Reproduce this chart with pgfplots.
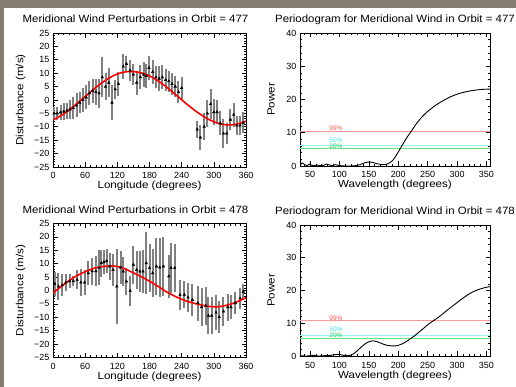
\documentclass[border=0pt]{standalone}
\usepackage{fontspec}
\setmainfont{Liberation Sans}
\usepackage{graphicx}
\usepackage{pgfplots}
\usepackage{pgfplotstable}
\pgfplotsset{compat=1.18}
\definecolor{bgstone}{RGB}{132,125,112}
\definecolor{errgray}{RGB}{128,128,128}
\definecolor{lred}{RGB}{255,150,150}
\definecolor{tred}{RGB}{255,80,80}
\definecolor{lcyan}{RGB}{150,245,245}
\definecolor{tcyan}{RGB}{60,225,225}
\definecolor{lgreen}{RGB}{100,230,130}
\definecolor{tgreen}{RGB}{30,200,90}
\newcommand{\wide}[1]{\scalebox{1.12}[1]{#1}}
\newcommand{\widet}[1]{\scalebox{1.085}[1]{#1}}

\pgfplotstableread{
x y e
2 -5.0 2.5
8 -5.0 2.5
14 -4.6 2.8
20 -4.3 3.0
26 -4.0 3.0
32 -3.5 3.5
38 -3.0 4.0
44 -2.0 4.5
50 -1.0 4.0
56 0.0 4.5
62 1.0 4.5
68 2.5 4.5
74 3.5 4.5
80 3.0 5.0
86 2.5 5.5
92 8.5 7.5
98 5.0 5.0
104 6.5 5.5
110 -1.0 6.5
116 4.0 3.5
122 6.0 4.5
131 12.5 4.5
137 13.5 3.0
144 11.0 4.0
150 9.5 4.0
156 6.5 4.5
163 8.5 4.5
169 9.5 4.5
174 9.0 4.5
179 12.0 4.5
186 10.5 4.5
192 8.5 4.0
198 8.0 4.5
204 8.5 4.5
210 7.5 4.0
216 7.0 4.0
222 6.0 4.0
228 5.0 4.0
234 3.0 4.0
240 4.5 4.0
269 -11.0 3.0
275 -14.0 4.5
282 -10.0 5.0
288 -5.0 5.0
294 -1.5 5.5
300 -4.5 5.0
306 -4.5 4.5
312 -8.7 4.5
318 -12.5 5.5
324 -12.5 4.0
331 -7.3 4.0
337 -5.5 4.5
343 -9.5 3.5
349 -9.5 3.5
355 -8.5 4.0
}\dataA

\pgfplotstableread{
x y e
3 2.5 4.5
10 1.5 5.0
17 2.0 4.0
24 3.0 3.0
31 3.5 2.5
38 3.5 2.0
45 4.0 3.5
52 3.0 5.0
59 3.0 4.5
66 6.5 4.5
73 7.2 5.0
80 7.2 5.5
86 8.5 6.5
90 10.2 5.0
95 10.6 4.5
100 11.0 4.5
106 9.0 5.0
112 7.7 6.0
119 1.5 14.0
126 8.6 6.0
131 7.1 5.5
137 3.4 5.0
144 -0.1 5.5
150 9.6 7.0
156 7.7 7.0
162 7.1 7.5
168 7.1 8.0
174 10.2 11.5
180 8.4 9.0
186 6.5 9.0
193 9.0 10.5
199 8.6 11.0
206 9.0 11.0
216 5.3 8.0
220 8.4 9.5
227 8.4 9.0
237 -1.6 5.5
245 -1.6 5.0
252 -2.6 5.5
260 -3.5 6.0
270 -4.7 6.5
277 -6.2 7.0
285 -5.7 7.0
290 -9.4 7.0
296 -9.4 7.0
304 -8.2 6.5
310 -9.9 6.0
318 -7.8 5.5
326 -6.2 5.0
332 -6.2 4.5
340 -4.7 4.0
349 -2.9 4.0
355 -0.4 3.0
}\dataB

\tikzset{sig/.style={font=\fontsize{6.5}{7}\selectfont, anchor=base, inner sep=0pt}}

\pgfplotsset{
  idl/.style={
    scale only axis,
    axis line style={black, line width=0.7bp},
    tick align=inside,
    major tick length=4.5bp,
    minor tick length=2.3bp,
    every tick/.style={black, line width=0.6bp},
    tick label style={font=\fontsize{9}{10}\selectfont},
    /pgf/number format/assume math mode=true,
    xticklabel style={anchor=base, yshift=-12bp, inner sep=0pt},
    yticklabel style={anchor=east, inner sep=0pt, xshift=-3.5bp},
    title style={at={(0.5,1)}, anchor=base, yshift=4.5bp, inner sep=0pt, font=\fontsize{10.6}{12}\selectfont},
    label style={font=\fontsize{10.4}{11}\selectfont},
    xlabel style={at={(0.5,0)}, anchor=base, yshift=-22bp, inner sep=0pt},
  },
  wind/.style={idl, width=193bp, height=134bp,
    xmin=0, xmax=360, ymin=-25, ymax=25,
    xtick={0,60,...,360}, minor x tick num=5,
    ytick={-25,-20,...,25}, minor y tick num=4,
    yticklabels={−25,−20,−15,−10,−5,0,5,10,15,20,25},
    title style={xshift=-14bp},
    xlabel={\wide{Longitude (degrees)}}, ylabel={\wide{Disturbance (m/s)}},
    ylabel style={at={(axis description cs:-0.153,0.5)}, anchor=base, inner sep=0pt},
  },
  pgram/.style={idl, width=190bp,
    xmin=33, xmax=356, ymin=0, ymax=40,
    xtick={50,100,...,350}, minor xtick={40,50,...,350},
    ytick={0,10,...,40}, minor y tick num=4,
    xlabel={\wide{Wavelength (degrees)}}, ylabel={\wide{Power}},
    ylabel style={at={(axis description cs:-0.134,0.5)}, anchor=base, inner sep=0pt},
  },
  errpts/.style={only marks, mark=triangle*, mark size=1.5bp, black,
    error bars/.cd, y dir=both, y explicit, error mark=none,
    error bar style={errgray, line width=2bp}},
}

\begin{document}
\begin{tikzpicture}
\useasboundingbox (0bp,0bp) rectangle (516bp,387bp);
\fill[bgstone] (0bp,0bp) rectangle (516bp,387bp);
\fill[white] (4bp,0bp) rectangle (516bp,379bp);

% top left
\begin{axis}[wind, at={(53bp,220bp)}, title={\widet{Meridional Wind Perturbations in Orbit = 477}}]
\addplot[errpts] table[x=x, y=y, y error=e] {\dataA};
\addplot[red, line width=1.6bp, smooth] coordinates {
(0,-7.4) (10,-6.4) (20,-5.2) (30,-3.7) (40,-2.1) (50,-0.4) (60,1.3) (70,3.0) (80,4.7) (90,6.2)
(100,7.6) (110,8.8) (120,9.7) (130,10.3) (140,10.6) (150,10.6) (160,10.3) (170,9.8) (180,9.0)
(190,7.9) (200,6.6) (210,5.1) (220,3.5) (230,1.8) (240,0.1) (250,-1.6) (260,-3.2) (270,-4.7)
(280,-6.0) (290,-7.2) (300,-8.1) (310,-8.8) (320,-9.2) (330,-9.3) (340,-9.1) (350,-8.6) (360,-7.9)};
\end{axis}

% top right
\begin{axis}[pgram, height=133bp, at={(300bp,221bp)}, title={\widet{Periodogram for Meridional Wind in Orbit = 477}}]
\addplot[lred, line width=1bp] coordinates {(33,10.5) (356,10.5)};
\addplot[lcyan, line width=1bp] coordinates {(33,6.2) (356,6.2)};
\addplot[lgreen, line width=1bp] coordinates {(33,5.2) (356,5.2)};
\node[sig, text=tred] at (axis cs:94,10.75) {99\%};
\node[sig, text=tcyan] at (axis cs:94,7.2) {50\%};
\node[sig, text=tgreen] at (axis cs:94,5.3) {20\%};
\addplot[black, line width=0.9bp, smooth] coordinates {
(33,0.2) (37,0.9) (41,0.4) (45,0.1) (49,0.6) (53,0.2) (57,0.1) (62,0.3) (67,0.1) (73,0.2)
(78,0.6) (83,0.3) (88,0.1) (93,0.4) (98,0.2) (104,0.05) (112,0.0) (120,0.0) (128,0.1) (135,0.4)
(142,0.9) (150,1.2) (158,1.0) (166,0.6) (174,0.4) (180,0.5) (186,1.0) (192,2.0) (198,3.6)
(204,5.4) (210,7.2) (216,8.9) (222,10.4) (230,12.5) (240,14.7) (250,16.4) (260,17.8) (270,19.0)
(280,20.0) (290,20.9) (300,21.6) (310,22.1) (320,22.5) (330,22.8) (340,23.0) (350,23.1) (356,23.1)};
\end{axis}

% bottom left
\begin{axis}[wind, at={(53bp,29.5bp)}, title={\widet{Meridional Wind Perturbations in Orbit = 478}}]
\addplot[errpts] table[x=x, y=y, y error=e] {\dataB};
\addplot[red, line width=1.6bp, smooth] coordinates {
(0,-0.9) (20,2.2) (40,5.0) (60,7.0) (80,8.5) (100,9.1) (115,9.1) (130,8.4) (150,6.6) (170,4.6)
(190,2.3) (210,-0.3) (230,-2.4) (250,-4.0) (270,-5.1) (290,-5.9) (305,-6.1) (320,-5.7) (340,-4.5) (360,-2.7)};
\end{axis}

% bottom right
\begin{axis}[pgram, height=131bp, at={(300bp,31bp)}, title={\widet{Periodogram for Meridional Wind in Orbit = 478}}]
\addplot[lred, line width=1bp] coordinates {(33,10.7) (356,10.7)};
\addplot[lcyan, line width=1bp] coordinates {(33,6.4) (356,6.4)};
\addplot[lgreen, line width=1bp] coordinates {(33,5.4) (356,5.4)};
\node[sig, text=tred] at (axis cs:94,10.95) {99\%};
\node[sig, text=tcyan] at (axis cs:94,7.4) {50\%};
\node[sig, text=tgreen] at (axis cs:94,5.5) {20\%};
\addplot[black, line width=0.9bp, smooth] coordinates {
(33,0.1) (45,0.0) (55,0.2) (65,0.0) (75,0.1) (85,0.2) (95,0.5) (102,0.4) (110,0.1) (118,0.2)
(125,0.8) (132,1.9) (140,3.2) (148,4.2) (156,4.6) (164,4.4) (172,3.8) (180,3.3) (188,3.1)
(196,3.1) (204,3.5) (212,4.2) (220,5.2) (228,6.2) (236,7.4) (244,8.6) (252,9.8) (260,10.8)
(268,11.8) (276,12.9) (284,14.1) (292,15.2) (300,16.3) (308,17.4) (316,18.4) (324,19.3)
(332,20.0) (340,20.5) (348,20.9) (356,21.2)};
\end{axis}
\end{tikzpicture}
\end{document}
